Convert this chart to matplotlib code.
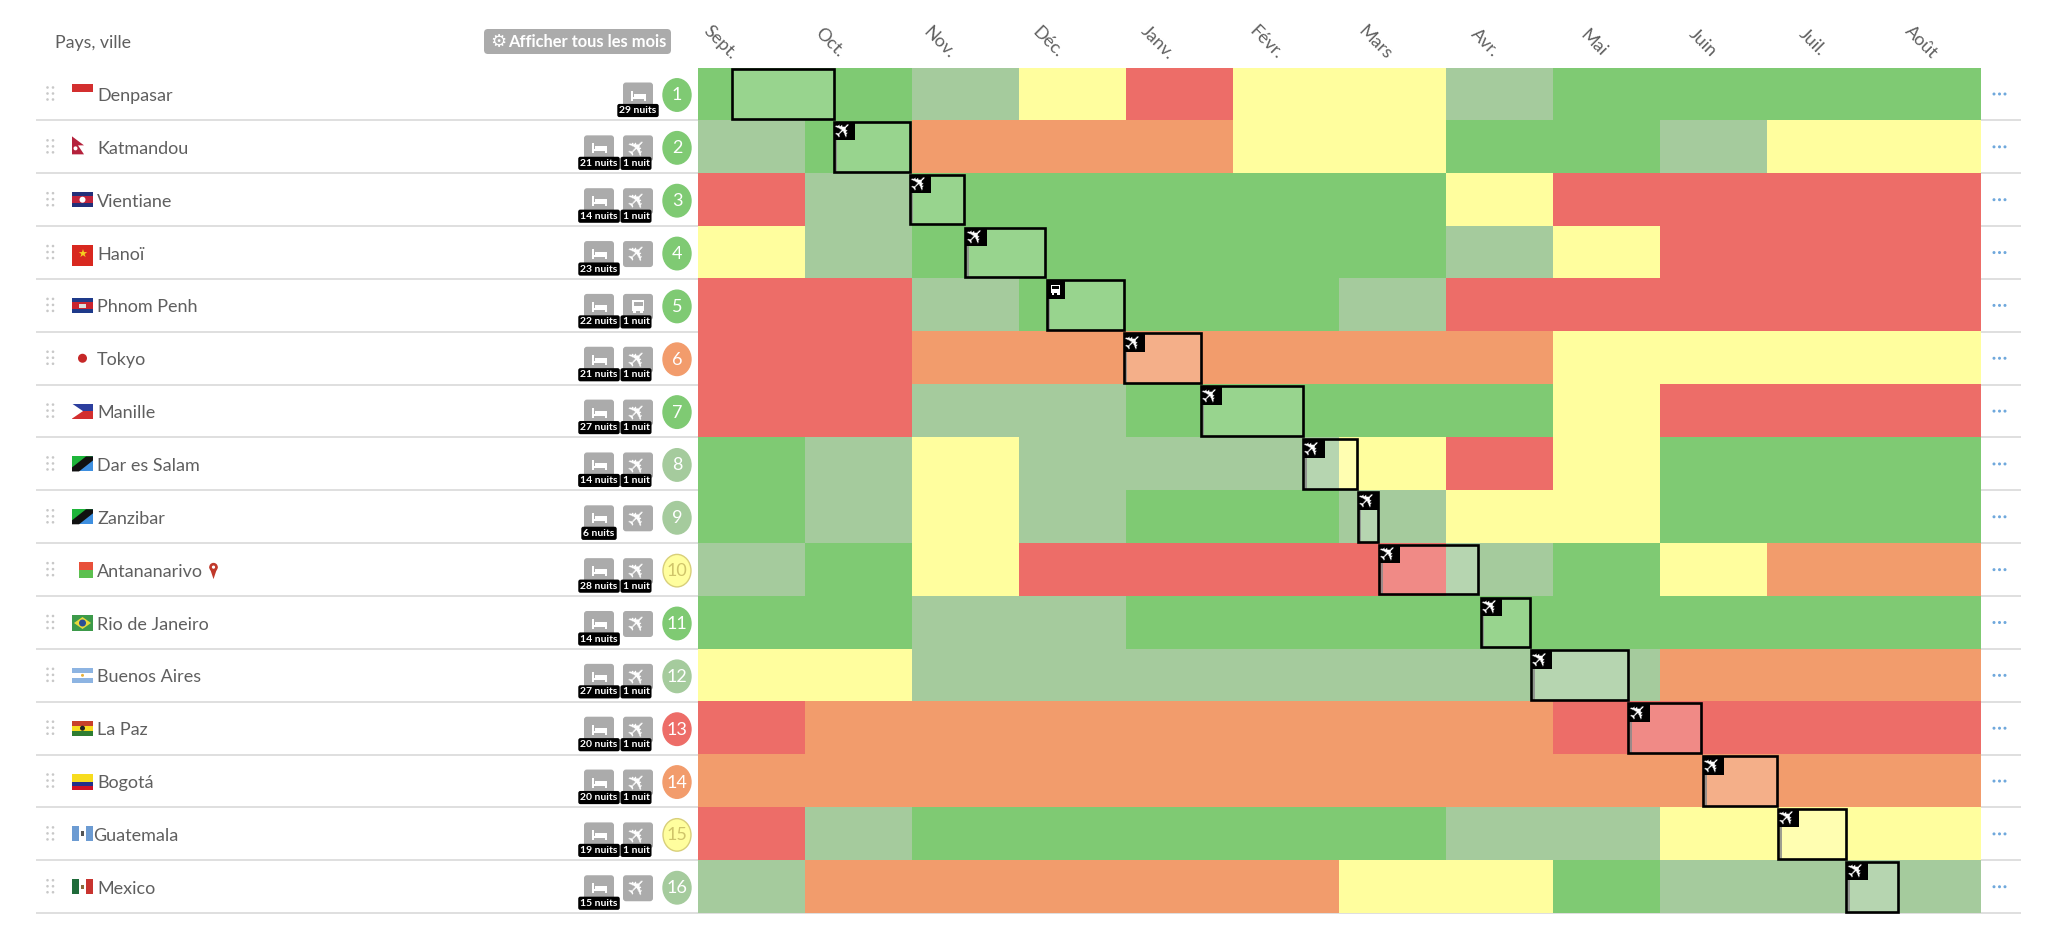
import matplotlib
matplotlib.use('Agg')
import matplotlib.pyplot as plt
from matplotlib.colors import ListedColormap
from matplotlib.patches import Circle, Ellipse, FancyBboxPatch, Polygon, Rectangle

plt.rcParams['font.family'] = ['Lato', 'DejaVu Sans']

# Donnees du tableau
villes = ['Denpasar', 'Katmandou', 'Vientiane', 'Hanoï', 'Phnom Penh', 'Tokyo', 'Manille', 'Dar es Salam',
          'Zanzibar', 'Antananarivo', 'Rio de Janeiro', 'Buenos Aires', 'La Paz', 'Bogotá', 'Guatemala', 'Mexico']
mois = ['Sept.', 'Oct.', 'Nov.', 'Déc.', 'Janv.', 'Févr.', 'Mars', 'Avr.', 'Mai', 'Juin', 'Juil.', 'Août']

# 0 vert, 1 vert pale, 2 jaune, 3 orange, 4 rouge
notes = [
    [0, 0, 1, 2, 4, 2, 2, 1, 0, 0, 0, 0],
    [1, 0, 3, 3, 3, 2, 2, 0, 0, 1, 2, 2],
    [4, 1, 0, 0, 0, 0, 0, 2, 4, 4, 4, 4],
    [2, 1, 0, 0, 0, 0, 0, 1, 2, 4, 4, 4],
    [4, 4, 1, 0, 0, 0, 1, 4, 4, 4, 4, 4],
    [4, 4, 3, 3, 3, 3, 3, 3, 2, 2, 2, 2],
    [4, 4, 1, 1, 0, 0, 0, 0, 2, 4, 4, 4],
    [0, 1, 2, 1, 1, 1, 2, 4, 2, 0, 0, 0],
    [0, 1, 2, 1, 0, 0, 1, 2, 2, 0, 0, 0],
    [1, 0, 2, 4, 4, 4, 4, 1, 0, 2, 3, 3],
    [0, 0, 1, 1, 0, 0, 0, 0, 0, 0, 0, 0],
    [2, 2, 1, 1, 1, 1, 1, 1, 1, 3, 3, 3],
    [4, 3, 3, 3, 3, 3, 3, 3, 4, 4, 4, 4],
    [3, 3, 3, 3, 3, 3, 3, 3, 3, 3, 3, 3],
    [4, 1, 0, 0, 0, 0, 0, 1, 1, 2, 2, 2],
    [1, 3, 3, 3, 3, 3, 2, 2, 0, 1, 1, 1],
]
note_ville = [0, 0, 0, 0, 0, 3, 0, 1, 1, 2, 0, 1, 4, 3, 2, 1]

# Debut et fin de chaque sejour, en mois depuis septembre
debut_sejour = [0.32, 1.27, 1.98, 2.50, 3.26, 3.98, 4.70, 5.66, 6.17, 6.37, 7.32, 7.79, 8.70, 9.40, 10.10, 10.74]
fin_sejour = [1.27, 1.98, 2.49, 3.25, 3.98, 4.70, 5.66, 6.16, 6.36, 7.30, 7.78, 8.70, 9.38, 10.09, 10.74, 11.22]

nuits = [29, 21, 14, 23, 22, 21, 27, 14, 6, 28, 14, 27, 20, 20, 19, 15]
nuits_transport = [0, 1, 1, 0, 1, 1, 1, 1, 0, 1, 0, 1, 1, 1, 1, 0]
transport = ['', 'avion', 'avion', 'avion', 'bus', 'avion', 'avion', 'avion', 'avion', 'avion', 'avion', 'avion',
             'avion', 'avion', 'avion', 'avion']

couleurs = ['#7FCA73', '#A5CB9D', '#FFFE9E', '#F29C6C', '#ED6D68']
gris_texte = '#5F5F5F'
gris_bouton = '#ABABAB'

# Geometrie en pixels
haut = 67.5
h_ligne = 52.85
x_g = 698
x_d = 1981

fig = plt.figure(figsize=(20.48, 9.32), dpi=100)

ui = fig.add_axes([0, 0, 1, 1], zorder=0)
ui.set_xlim(0, 2048)
ui.set_ylim(932, 0)
ui.axis('off')

ax = fig.add_axes([x_g / 2048, 1 - (haut + 16 * h_ligne) / 932, (x_d - x_g) / 2048, 16 * h_ligne / 932], zorder=1)
ax.patch.set_alpha(0)
ax.imshow(notes, cmap=ListedColormap(couleurs), vmin=0, vmax=4, extent=[0, 12, 16, 0], aspect='auto',
          interpolation='nearest')
ax.set_xlim(0, 12)
ax.set_ylim(16, 0)
ax.axis('off')

dessus = fig.add_axes([0, 0, 1, 1], zorder=2)
dessus.patch.set_alpha(0)
dessus.set_xlim(0, 2048)
dessus.set_ylim(932, 0)
dessus.axis('off')

# Mois en haut, un peu plus espaces que les colonnes
for i, m in enumerate(mois):
    ax.text(i * 1.021 + 0.21, -0.47, m, rotation=-45, ha='center', va='center', fontsize=13, color=gris_texte,
            clip_on=False)


# Petits dessins
def rect(x, y, w, h, c, cible=ui):
    cible.add_patch(Rectangle((x, y), w, h, fc=c, ec='none'))


def bouton(x, y, w, h, c=gris_bouton, r=3):
    ui.add_patch(FancyBboxPatch((x + r, y + r), w - 2 * r, h - 2 * r, boxstyle='round,pad=%d' % r, fc=c, ec='none'))


def lit(cx, cy):
    rect(cx - 7, cy - 5, 2, 10, 'white')
    rect(cx - 7, cy + 1, 15, 2, 'white')
    rect(cx + 6, cy + 1, 2, 4, 'white')
    rect(cx - 4, cy - 2, 12, 3, 'white')


def bus(x, y, s, fond, cible=ui):
    rect(x - 6 * s, y - 6 * s, 12 * s, 11 * s, 'white', cible)
    rect(x - 4.5 * s, y - 4 * s, 9 * s, 4 * s, fond, cible)
    rect(x - 5 * s, y + 5 * s, 3 * s, 2 * s, 'white', cible)
    rect(x + 2 * s, y + 5 * s, 3 * s, 2 * s, 'white', cible)


def drapeau(i, x, y):
    w, h = 21, 15
    if i == 0:
        rect(x, y - 3, w, 8, '#D32F2F')
    elif i == 1:
        ui.add_patch(Polygon([(x, y - 3), (x + 12, y + 6), (x + 6, y + 6), (x + 12, y + 15), (x, y + 15)],
                             fc='#B5223C', ec='none'))
        ui.add_patch(Circle((x + 3.5, y + 9), 2, fc='white', ec='none'))
    elif i == 2:
        rect(x, y, w, h, '#22307A')
        rect(x, y + 4, w, 7, '#C0243C')
        ui.add_patch(Circle((x + 10.5, y + 7.5), 3, fc='white', ec='none'))
    elif i == 3:
        rect(x, y, w, h + 6, '#D8281F')
        ui.text(x + 10.5, y + 10, '★', color='#F5D020', fontsize=8, ha='center', va='center', family='DejaVu Sans')
    elif i == 4:
        rect(x, y, w, h, '#1E3A8A')
        rect(x, y + 4, w, 7, '#C8242F')
        rect(x + 7, y + 6, 7, 4, '#DDDDDD')
    elif i == 5:
        ui.add_patch(Circle((x + 10.5, y + 7.5), 4.5, fc='#C62828', ec='none'))
    elif i == 6:
        rect(x, y, w, 7.5, '#2C3E9E')
        rect(x, y + 7.5, w, 7.5, '#D32F2F')
        ui.add_patch(Polygon([(x, y), (x + 11, y + 7.5), (x, y + 15)], fc='white', ec='none'))
    elif i in (7, 8):
        rect(x, y, w, h, '#1EB53A')
        ui.add_patch(Polygon([(x + w, y), (x + w, y + h), (x, y + h)], fc='#3E8FE0', ec='none'))
        ui.add_patch(Polygon([(x + 14, y), (x + w, y), (x + w, y + 4), (x + 7, y + h), (x, y + h), (x, y + 11)],
                             fc='#111111', ec='none'))
    elif i == 9:
        rect(x + 7, y, 14, 8, '#E8503A')
        rect(x + 7, y + 8, 14, 8, '#5CC04F')
    elif i == 10:
        rect(x, y, w, h + 1, '#3C9A4A')
        ui.add_patch(Polygon([(x + 2, y + 8), (x + 10.5, y + 2), (x + 19, y + 8), (x + 10.5, y + 14)],
                             fc='#E8D93C', ec='none'))
        ui.add_patch(Circle((x + 10.5, y + 8), 3.5, fc='#2C4F96', ec='none'))
    elif i == 11:
        rect(x, y, w, 15, 'white')
        rect(x, y, w, 5, '#8DB4E2')
        rect(x, y + 10, w, 5, '#8DB4E2')
        ui.add_patch(Circle((x + 10.5, y + 7.5), 1.5, fc='#E8B23C', ec='none'))
    elif i == 12:
        rect(x, y, w, 5, '#C8402A')
        rect(x, y + 5, w, 5, '#F7DC1E')
        rect(x, y + 10, w, 5, '#2E7D32')
        ui.add_patch(Circle((x + 10.5, y + 7.5), 2.5, fc='#222222', ec='none'))
    elif i == 13:
        rect(x, y, w, 8, '#F7DC1E')
        rect(x, y + 8, w, 4, '#22308A')
        rect(x, y + 12, w, 4, '#CE1126')
    elif i == 14:
        rect(x, y, 7, h, '#6C9BD2')
        rect(x + 14, y, 7, h, '#6C9BD2')
        rect(x + 9, y + 5, 3, 5, '#555555')
    elif i == 15:
        rect(x, y, 7, h, '#1F6B3A')
        rect(x + 14, y, 7, h, '#C8342F')
        rect(x + 9, y + 6, 3, 4, '#8A6A3A')


# En-tete
ui.text(55, 43, 'Pays, ville', fontsize=12.8, color=gris_texte, va='center')
bouton(484, 29, 187, 25, r=4)
ui.text(490, 42, '⚙', fontsize=13, color='white', va='center', family='DejaVu Sans')
ui.text(508, 42, 'Afficher tous les mois', fontsize=11.9, color='white', va='center', fontweight='bold')

# Lignes du tableau
for i, ville in enumerate(villes):
    y0 = haut + i * h_ligne
    y1 = y0 + h_ligne
    ui.plot([36, 2021], [y1, y1], color='#DCDCDC', lw=1.3, solid_capstyle='butt')

    # poignee
    for dx in (47.5, 53):
        for dy in (20, 26, 32):
            ui.add_patch(Circle((dx, y0 + dy), 1.3, fc='#C8C8C8', ec='none'))

    drapeau(i, 72, y0 + 19)
    ui.text(93 if ville == 'Guatemala' else 97, y0 + 28.5, ville, fontsize=13, color=gris_texte, va='center')
    if ville == 'Antananarivo':
        ui.add_patch(Polygon([(209.5, y0 + 24), (213.5, y0 + 36), (217.5, y0 + 24)], fc='#C0392B', ec='none'))
        ui.add_patch(Circle((213.5, y0 + 24), 4.3, fc='#C0392B', ec='none'))
        ui.add_patch(Circle((213.5, y0 + 24), 1.6, fc='white', ec='none'))

    # boutons hebergement et transport
    x_lit = 623 if i == 0 else 584
    bouton(x_lit, y0 + 15, 30, 26)
    lit(x_lit + 15, y0 + 28)
    ui.text(x_lit + 15, y0 + 43, '%d nuits' % nuits[i], fontsize=7.5, color='white', ha='center', va='center',
            fontweight='bold', bbox=dict(boxstyle='round,pad=0.2', fc='black', ec='none'), zorder=5)
    if transport[i] != '':
        bouton(623, y0 + 15, 30, 26)
        if transport[i] == 'bus':
            bus(638, y0 + 27, 1, gris_bouton)
        else:
            ui.text(638, y0 + 27.5, '✈', fontsize=17, color='white', rotation=45, ha='center', va='center',
                    family='DejaVu Sans')
        if nuits_transport[i]:
            ui.text(636, y0 + 43, '%d nuit' % nuits_transport[i], fontsize=7.5, color='white', ha='center',
                    va='center', fontweight='bold', bbox=dict(boxstyle='round,pad=0.2', fc='black', ec='none'),
                    zorder=5)

    # pastille numerotee
    c = couleurs[note_ville[i]]
    bord = '#D8CF7A' if note_ville[i] == 2 else c
    ui.add_patch(Ellipse((677, y0 + 27.5), 28, 32.5, fc=c, ec=bord, lw=1))
    ui.text(677, y0 + 28, str(i + 1), fontsize=13, color='#CFC46A' if note_ville[i] == 2 else 'white',
            ha='center', va='center')

    # menu a droite
    for dx in (1994, 1999.5, 2005):
        ui.add_patch(Circle((dx, y0 + 26.5), 1.5, fc='#6FA8DC', ec='none'))

# Sejours
for i in range(16):
    d, f = debut_sejour[i], fin_sejour[i]
    ax.add_patch(Rectangle((d, i + 0.03), f - d, 0.94, fc='white', ec='none', alpha=0.2, zorder=3))
    ax.add_patch(Rectangle((d, i + 0.03), f - d, 0.94, fc='none', ec='black', lw=1.9, zorder=4, clip_on=False))
    if transport[i] == '':
        continue
    ax.plot([d + 0.025, d + 0.025], [i + 0.35, i + 0.95], color='#8A8A8A', lw=1.2, zorder=3.5)
    larg = 0.17 if transport[i] == 'bus' else 0.2
    ax.add_patch(Rectangle((d, i + 0.03), larg, 0.35, fc='black', ec='none', zorder=5))
    if transport[i] == 'bus':
        bus(x_g + (d + larg / 2) * (x_d - x_g) / 12, haut + (i + 0.2) * h_ligne, 0.8, 'black', dessus)
    else:
        ax.text(d + larg / 2, i + 0.2, '✈', fontsize=16, color='white', rotation=45, ha='center', va='center',
                family='DejaVu Sans', zorder=6)

fig.savefig('out.png', dpi=100)
